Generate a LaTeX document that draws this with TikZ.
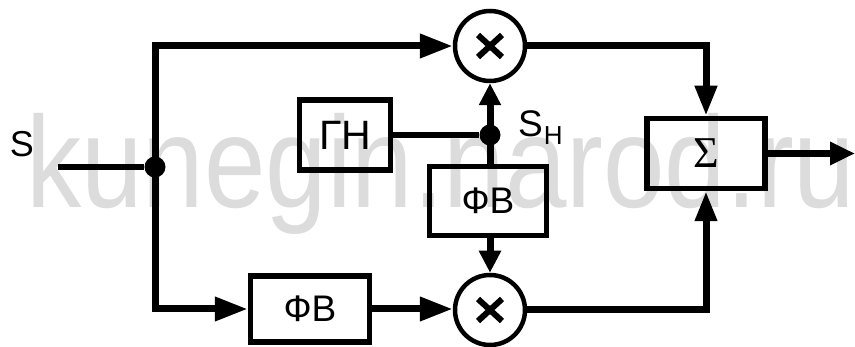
\documentclass[tikz,border=0pt]{standalone}
\usepackage{fontspec}
\setmainfont{Liberation Sans}
\newfontfamily\sigfont{Liberation Serif}
\usetikzlibrary{arrows.meta}
\definecolor{wm}{RGB}{220,220,220}
\begin{document}
\begin{tikzpicture}[x=1pt,y=-1pt,
  thickline/.style={line width=7pt},
  thinline/.style={line width=5.5pt},
  blockbox/.style={draw,line width=5.5pt,inner sep=0pt},
  mult/.style={draw,circle,line width=4.5pt,minimum size=70pt,inner sep=0pt},
  jdot/.style={fill,circle,minimum size=21pt,inner sep=0pt},
  crossline/.style={line width=6pt},
  arrL/.style={-{Triangle[length=33pt,width=23pt]}},
  arrS/.style={-{Triangle[length=22pt,width=21pt]}},
  arrM/.style={-{Triangle[length=30pt,width=21pt]}},
  arrO/.style={-{Triangle[length=25pt,width=22pt]}},
  lab/.style={inner sep=0pt}]
\useasboundingbox (0,0) rectangle (855,347);
% watermark
\node[lab,anchor=base west,text=wm] (WM) at (26,208)
  {\scalebox{0.85}[1]{\fontsize{130}{130}\selectfont kunegin.narod.ru}};
% blocks
\node[blockbox,minimum width=91pt,minimum height=70pt,font=\fontsize{41}{41}\selectfont] (GN) at (345,135) {ГН};
\node[blockbox,minimum width=117pt,minimum height=69pt,font=\fontsize{37}{37}\selectfont] (FV1) at (488,201) {ФВ};
\node[blockbox,minimum width=119pt,minimum height=66pt,font=\fontsize{37}{37}\selectfont] (FV2) at (310,309) {ФВ};
\node[blockbox,minimum width=118pt,minimum height=70pt,font=\sigfont\fontsize{44}{44}\selectfont] (SUM) at (706,153.5) {Σ};
\node[mult] (M1) at (490,46) {};
\node[mult] (M2) at (490,310) {};
\node[jdot] (J1) at (155,167) {};
\node[jdot] (J2) at (490,135) {};
\coordinate (IN) at (58,167);
\coordinate (OUT) at (855,155);
% crosses
\foreach \m in {M1,M2}{
  \draw[crossline] ([shift={(-12,-11)}]\m.center) -- ([shift={(12,11)}]\m.center);
  \draw[crossline] ([shift={(-12,11)}]\m.center) -- ([shift={(12,-11)}]\m.center);
}
% connectors
\draw[thinline] (IN) -- (J1);
\draw[thickline,arrL] (J1.center) |- (M1.west);
\draw[thickline,arrL] (J1.center) |- (FV2.west);
\draw[thickline,arrL] (FV2.east) -- (FV2.east -| M2.west);
\draw[thinline] (GN.east) -- (J2);
\draw[thickline,arrS] (J2.center) -- (M1.south);
\draw[thickline] (J2.center) -- (J2 |- FV1.north);
\draw[thickline,arrS] (J2 |- FV1.south) -- (M2.north);
\draw[thickline,arrM] (M1.east) -| (SUM.north);
\draw[thickline,arrM] (M2.east) -| (SUM.south);
\draw[thickline,arrO] (SUM.east) -- (SUM.east -| OUT);
% labels
\node[lab,anchor=base] (SL) at (22,157) {\fontsize{36}{36}\selectfont S};
\node[lab,anchor=base west] (SHL) at (518,137) {\fontsize{37}{37}\selectfont S\kern1pt\raisebox{-8pt}{\fontsize{26}{26}\selectfont H}};
\end{tikzpicture}
\end{document}
